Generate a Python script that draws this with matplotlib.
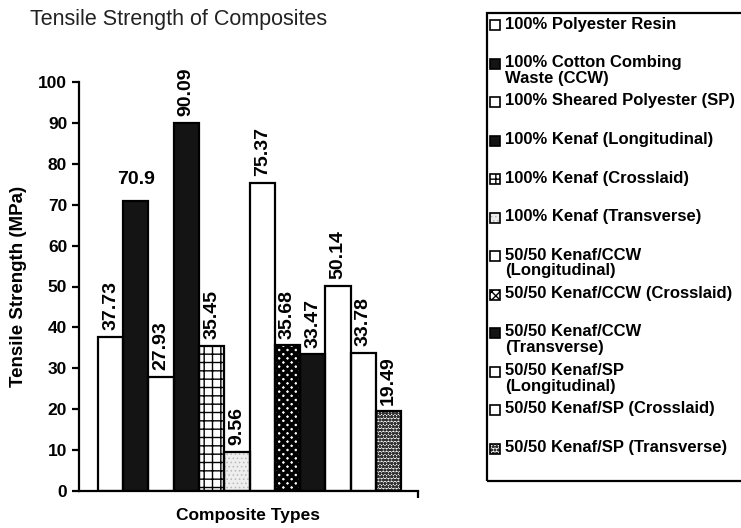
"""Tensile strength of kenaf / polyester / cotton-waste composites, one bar per composite."""

import matplotlib
matplotlib.use("Agg")
import matplotlib.pyplot as plt
from matplotlib.patches import Rectangle

plt.rcParams["font.family"] = ["Liberation Sans", "DejaVu Sans"]

composites = [
    "100% Polyester Resin",
    "100% Cotton Combing\nWaste (CCW)",
    "100% Sheared Polyester (SP)",
    "100% Kenaf (Longitudinal)",
    "100% Kenaf (Crosslaid)",
    "100% Kenaf (Transverse)",
    "50/50 Kenaf/CCW\n(Longitudinal)",
    "50/50 Kenaf/CCW (Crosslaid)",
    "50/50 Kenaf/CCW\n(Transverse)",
    "50/50 Kenaf/SP\n(Longitudinal)",
    "50/50 Kenaf/SP (Crosslaid)",
    "50/50 Kenaf/SP (Transverse)",
]
strength = [37.73, 70.9, 27.93, 90.09, 35.45, 9.56, 75.37, 35.68, 33.47, 50.14, 33.78, 19.49]
value_labels = ["37.73", "70.9", "27.93", "90.09", "35.45", "9.56",
                "75.37", "35.68", "33.47", "50.14", "33.78", "19.49"]

# fill, hatch, hatch colour, hatch linewidth per bar
styles = [
    ("white", "", "black", 1.0),
    ("#141414", "", "black", 1.0),
    ("white", "", "black", 1.0),
    ("#141414", "", "black", 1.0),
    ("white", "++", "black", 1.0),
    ("#eeeeee", "....", "#b8b8b8", 0.6),
    ("white", "", "black", 1.0),
    ("white", "xxxx", "black", 2.6),
    ("#141414", "", "black", 1.0),
    ("white", "", "black", 1.0),
    ("white", "", "black", 1.0),
    ("white", "ooooo", "#333333", 1.1),
]

W, H = 741, 528
fig = plt.figure(figsize=(W / 100, H / 100), dpi=100)
ax = fig.add_axes([79 / W, 1 - 491 / H, (418 - 79) / W, (491 - 82) / H])

xs = list(range(len(strength)))
for x, v, (fc, hatch, hc, hlw) in zip(xs, strength, styles):
    if hatch:
        with plt.rc_context({"hatch.linewidth": hlw}):
            ax.bar(x, v, width=1.0, color=fc, edgecolor=hc, hatch=hatch, linewidth=0, zorder=2)
    else:
        ax.bar(x, v, width=1.0, color=fc, linewidth=0, zorder=2)
    ax.bar(x, v, width=1.0, fill=False, edgecolor="black", linewidth=1.6, zorder=3)

for x, v, lab in zip(xs, strength, value_labels):
    if lab == "70.9":
        ax.text(x, v + 3.3, lab, ha="center", va="bottom", fontsize=14, fontweight="bold")
    else:
        ax.text(x, v + 1.6, lab, ha="center", va="bottom", rotation=90,
                fontsize=14, fontweight="bold")

ax.set_xlim(-1.25, 12.17)
ax.set_ylim(0, 100)
ax.set_yticks(range(0, 101, 10))
ax.set_xticks([12.17])
ax.set_xticklabels([""])
ax.tick_params(axis="y", direction="out", length=5, width=1.6, labelsize=12.5)
ax.tick_params(axis="x", direction="out", length=5, width=1.6)
for t in ax.get_yticklabels():
    t.set_fontweight("bold")
ax.spines["top"].set_visible(False)
ax.spines["right"].set_visible(False)
ax.spines["left"].set_linewidth(1.6)
ax.spines["bottom"].set_linewidth(1.6)
ax.set_ylabel("Tensile Strength (MPa)", fontsize=13.5, fontweight="bold", labelpad=8)
ax.set_xlabel("Composite Types", fontsize=12.5, fontweight="bold", labelpad=4)

fig.text(30 / W, 1 - 20 / H, "Tensile Strength of Composites", fontsize=15.5,
         ha="left", va="center", color="#222222")

# legend box, drawn in figure pixels: one slot per entry, two-line labels overflow
fig.patches.append(Rectangle((487 / W, 1 - 481 / H), 300 / W, (481 - 13) / H,
                             transform=fig.transFigure, fill=False,
                             edgecolor="black", linewidth=1.6))
for i, (lab, (fc, hatch, hc, hlw)) in enumerate(zip(composites, styles)):
    yc = 25 + 38.5 * i
    if hatch:
        with plt.rc_context({"hatch.linewidth": min(hlw, 1.0)}):
            fig.patches.append(Rectangle((490 / W, 1 - (yc + 5) / H), 10 / W, 10 / H,
                                         transform=fig.transFigure, facecolor=fc,
                                         edgecolor=hc, hatch=hatch, linewidth=0))
    else:
        fig.patches.append(Rectangle((490 / W, 1 - (yc + 5) / H), 10 / W, 10 / H,
                                     transform=fig.transFigure, facecolor=fc, linewidth=0))
    fig.patches.append(Rectangle((490 / W, 1 - (yc + 5) / H), 10 / W, 10 / H,
                                 transform=fig.transFigure, fill=False,
                                 edgecolor="black", linewidth=1.2))
    fig.text(505 / W, 1 - (yc - 8.5) / H, lab, fontsize=12, fontweight="bold",
             ha="left", va="top", linespacing=1.05)

fig.savefig("out.png", dpi=100)
